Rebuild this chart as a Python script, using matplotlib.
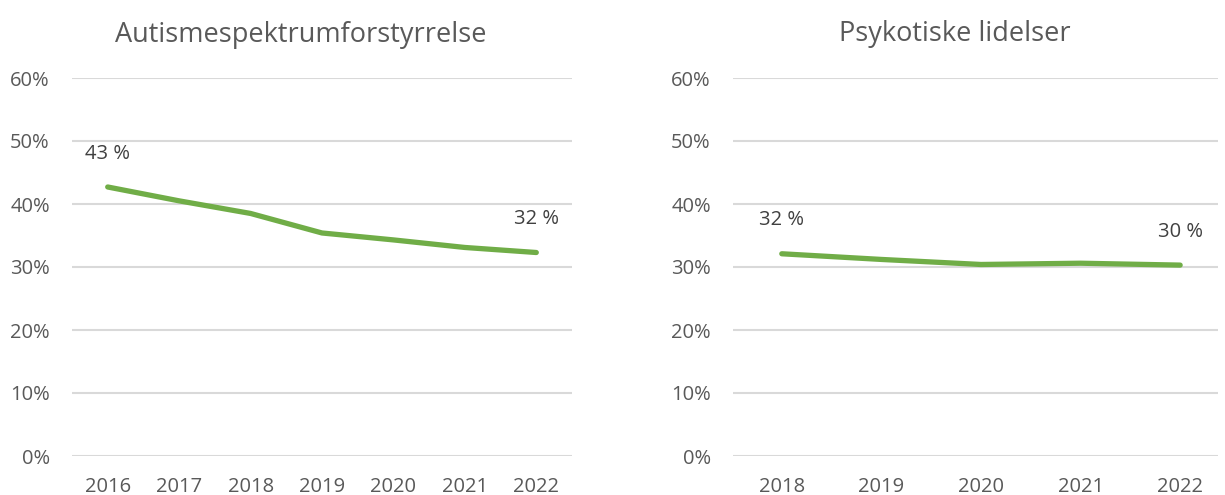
import matplotlib.pyplot as plt
import numpy as np

# data
years_aut = ['2016', '2017', '2018', '2019', '2020', '2021', '2022']
autisme = [0.427, 0.405, 0.385, 0.354, 0.343, 0.331, 0.323]

years_psy = ['2018', '2019', '2020', '2021', '2022']
psykose = [0.321, 0.312, 0.304, 0.306, 0.303]

titles = ['Autismespektrumforstyrrelse', 'Psykotiske lidelser']
yticks = [0, 0.1, 0.2, 0.3, 0.4, 0.5, 0.6]

plt.rcParams['font.family'] = ['Open Sans', 'DejaVu Sans']

green = '#70AD47'
grey = '#595959'
grid = '#D9D9D9'

fig = plt.figure(figsize=(12.25, 4.95), dpi=100)
ax1 = fig.add_axes([72 / 1225, 1 - 456 / 495, 500 / 1225, 378 / 495])
ax2 = fig.add_axes([733 / 1225, 1 - 456 / 495, 485 / 1225, 378 / 495])


def draw(ax, years, vals, xlim):
    x = np.arange(len(years))
    ax.plot(x, vals, color=green, lw=3.8, solid_capstyle='round',
            solid_joinstyle='round', zorder=3)
    ax.set_xlim(*xlim)
    ax.set_ylim(0, 0.6)
    ax.set_yticks(yticks)
    ax.set_yticklabels([f'{int(round(t * 100))}%' for t in yticks])
    ax.set_xticks(x)
    ax.set_xticklabels(years)
    ax.tick_params(axis='both', length=0, labelsize=14.5, labelcolor=grey)
    ax.tick_params(axis='y', pad=16)
    ax.tick_params(axis='x', pad=15)
    ax.grid(axis='y', color=grid, lw=1.5)
    ax.set_axisbelow(True)
    for s in ax.spines.values():
        s.set_visible(False)
    # first and last data labels
    for i in (0, len(vals) - 1):
        ax.annotate(f'{vals[i] * 100:.0f} %', (x[i], vals[i]),
                    xytext=(0, 24), textcoords='offset points',
                    ha='center', va='center', fontsize=14.5, color='#404040')


draw(ax1, years_aut, autisme, (-0.5, 6.5))
draw(ax2, years_psy, psykose, (-0.49, 4.38))

fig.text(301 / 1225, 1 - 42 / 495, titles[0], ha='center', va='baseline',
         fontsize=19.5, color=grey)
fig.text(955 / 1225, 1 - 41 / 495, titles[1], ha='center', va='baseline',
         fontsize=19.5, color=grey)

fig.savefig('out.png', dpi=100)
